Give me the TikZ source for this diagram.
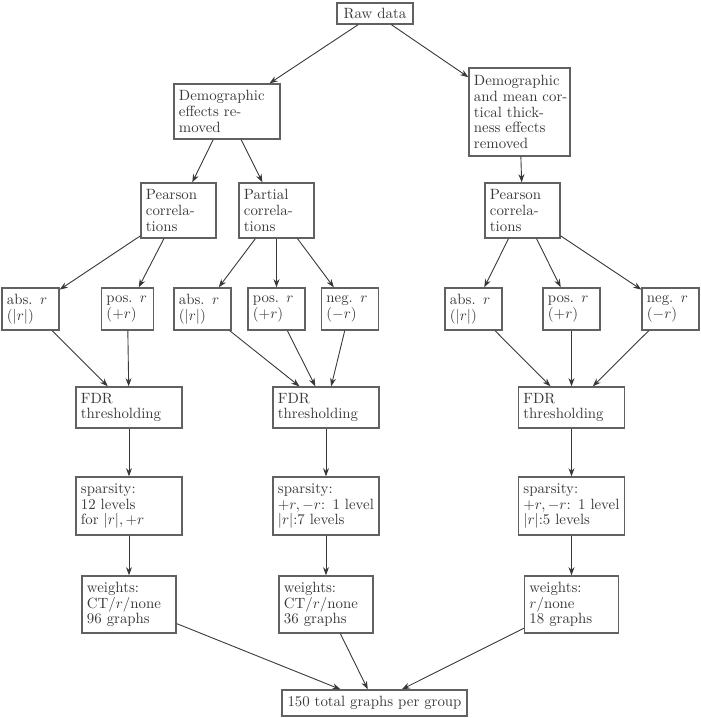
\documentclass[tikz,border=0pt]{standalone}
\usetikzlibrary{arrows.meta}
\begin{document}
\begin{tikzpicture}[x=0.673pt,y=-0.673pt,
  every node/.style={text=black!78, font=\fontsize{10}{10.6}\selectfont},
  box/.style={draw=black!62, line width=0.9pt, inner sep=3.33pt, align=left},
  bw/.style={text width=#1},
  arr/.style={draw=black!78, line width=0.6pt, -{Stealth[length=5.5pt,width=4pt]}}]
\useasboundingbox (0,0) rectangle (701,718);
% nodes
\node[box, align=center, minimum width=51.1pt, minimum height=14.1pt] (raw) at (375,13.5) {Raw data};
\node[box, bw=64.7pt, minimum height=37pt] (demL) at (227,111.5) {Demographic\\effects re-\\moved};
\node[box, bw=61.3pt, minimum height=59.2pt] (demR) at (519.5,112) {Demographic\\\mbox{and mean cor-}\\tical thick-\\ness effects\\removed};
\node[box, bw=43.8pt, minimum height=37pt] (pearL) at (178.5,210.5) {Pearson\\correla-\\tions};
\node[box, bw=43.8pt, minimum height=37pt] (part) at (276.5,210.5) {Partial\\correla-\\tions};
\node[box, bw=43.8pt, minimum height=37pt] (pearR) at (522.5,210.5) {Pearson\\correla-\\tions};
\node[box, bw=31.7pt, minimum height=28.3pt] (absL) at (30.5,309) {abs. $r$\\($|r|$)};
\node[box, bw=28.3pt, minimum height=28.3pt] (posL) at (127.5,309) {pos. $r$\\($+r$)};
\node[box, bw=31.7pt, minimum height=28.3pt] (absM) at (202.5,309) {abs. $r$\\($|r|$)};
\node[box, bw=31.7pt, minimum height=28.3pt] (posM) at (276.5,309) {pos. $r$\\($+r$)};
\node[box, bw=31.7pt, minimum height=28.3pt] (negM) at (350,309) {neg. $r$\\($-r$)};
\node[box, bw=31.7pt, minimum height=28.3pt] (absR) at (473.5,309) {abs. $r$\\($|r|$)};
\node[box, bw=31.7pt, minimum height=28.3pt] (posR) at (571.5,309) {pos. $r$\\($+r$)};
\node[box, bw=31.7pt, minimum height=28.3pt] (negR) at (670.5,309) {neg. $r$\\($-r$)};
\node[box, bw=64.7pt, minimum height=27.6pt] (fdrL) at (129,407.5) {FDR\\thresholding};
\node[box, bw=64.7pt, minimum height=27.6pt] (fdrM) at (326,407.5) {FDR\\thresholding};
\node[box, bw=64.7pt, minimum height=27.6pt] (fdrR) at (571.5,407.5) {FDR\\thresholding};
\node[box, bw=64.7pt, minimum height=39pt] (spL) at (129,506) {sparsity:\\12 levels\\for $|r|, +r$};
\node[box, bw=64.7pt, minimum height=39pt] (spM) at (326,506) {sparsity:\\\mbox{$+r, -r$:  1 level}\\$|r|$:7 levels};
\node[box, bw=64.7pt, minimum height=39pt] (spR) at (571.5,506) {sparsity:\\\mbox{$+r, -r$:  1 level}\\$|r|$:5 levels};
\node[box, bw=56.6pt, minimum height=38.4pt] (wL) at (129,604.5) {weights:\\CT/$r$/none\\96 graphs};
\node[box, bw=56.6pt, minimum height=38.4pt] (wM) at (326,604.5) {weights:\\CT/$r$/none\\36 graphs};
\node[box, bw=56.6pt, minimum height=38.4pt] (wR) at (571.5,604.5) {weights:\\$r$/none\\18 graphs};
\node[box, align=center, minimum width=124.5pt, minimum height=17.5pt] (tot) at (374.5,703) {150 total graphs per group};
% connectors
\draw[arr] (raw) -- (demL);
\draw[arr] (raw) -- (demR);
\draw[arr] (demL) -- (pearL);
\draw[arr] (demL) -- (part);
\draw[arr] (demR) -- (pearR);
\draw[arr] (pearL) -- (absL);
\draw[arr] (pearL) -- (posL);
\draw[arr] (part) -- (absM);
\draw[arr] (part) -- (posM);
\draw[arr] (part) -- (negM);
\draw[arr] (pearR) -- (absR);
\draw[arr] (pearR) -- (posR);
\draw[arr] (pearR) -- (negR);
\draw[arr] (absL) -- (fdrL);
\draw[arr] (posL) -- (fdrL);
\draw[arr] (absM) -- (fdrM);
\draw[arr] (posM) -- (fdrM);
\draw[arr] (negM) -- (fdrM);
\draw[arr] (absR) -- (fdrR);
\draw[arr] (posR) -- (fdrR);
\draw[arr] (negR) -- (fdrR);
\draw[arr] (fdrL) -- (spL);
\draw[arr] (fdrM) -- (spM);
\draw[arr] (fdrR) -- (spR);
\draw[arr] (spL) -- (wL);
\draw[arr] (spM) -- (wM);
\draw[arr] (spR) -- (wR);
\draw[arr] (wL) -- (tot);
\draw[arr] (wM) -- (tot);
\draw[arr] (wR) -- (tot);
\end{tikzpicture}
\end{document}
